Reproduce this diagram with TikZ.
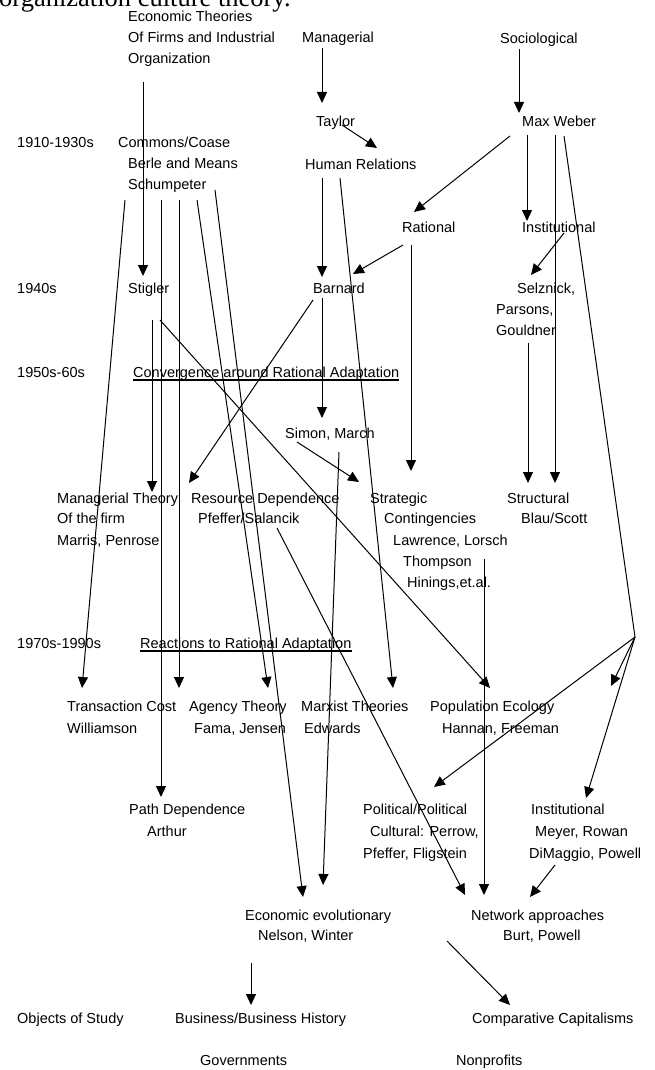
\documentclass[tikz,border=0pt]{standalone}
\usepackage{fontspec}
\setmainfont{Liberation Sans}
\newfontfamily\headserif{Liberation Serif}
\usetikzlibrary{arrows.meta}
\begin{document}
\begin{tikzpicture}[x=1pt,y=-1pt,
  lbl/.style={anchor=base west,inner sep=0pt,font=\fontsize{14.5}{17}\selectfont},
  arr/.style={line width=1pt,-{Triangle[length=11pt,width=10pt]}},
  ln/.style={line width=1pt},
  uline/.style={line width=1.2pt}]
\useasboundingbox (0,0) rectangle (654,1070);
\clip (0,0) rectangle (654,1070);
\fill[white] (0,0) rectangle (654,1070);
% clipped heading
\node[anchor=base west,inner sep=0pt,font=\headserif\fontsize{26.5}{30}\selectfont] (title) at (-1,7) {organization culture theory.};
% ---------- labels ----------
\node[lbl] (econ1) at (128,22) {Economic Theories};
\node[lbl] (econ2) at (128,43) {Of Firms and Industrial};
\node[lbl] (econ3) at (128,64) {Organization};
\node[lbl] (manag) at (302,43) {Managerial};
\node[lbl] (socio) at (500,44) {Sociological};
\node[lbl] (y1910) at (17,147) {1910-1930s};
\node[lbl] (commons) at (118,147) {Commons/Coase};
\node[lbl] (taylor) at (316,127) {Taylor};
\node[lbl] (weber) at (522,127) {Max Weber};
\node[lbl] (berle) at (128,168) {Berle and Means};
\node[lbl] (humrel) at (305,169) {Human Relations};
\node[lbl] (schump) at (128,189) {Schumpeter};
\node[lbl] (rational) at (402,232) {Rational};
\node[lbl] (instit) at (522,232) {Institutional};
\node[lbl] (y1940) at (17,293) {1940s};
\node[lbl] (stigler) at (128,293) {Stigler};
\node[lbl] (barnard) at (313,293) {Barnard};
\node[lbl] (selz) at (517,293) {Selznick,};
\node[lbl] (pars) at (496,314) {Parsons,};
\node[lbl] (gould) at (496,335) {Gouldner};
\node[lbl] (y1950) at (17,377) {1950s-60s};
\node[lbl] (conv) at (133,377) {Convergence around Rational Adaptation};
\node[lbl] (simon) at (285,438) {Simon, March};
\node[lbl] (mt1) at (57,503) {Managerial Theory};
\node[lbl] (mt2) at (57,523) {Of the firm};
\node[lbl] (mt3) at (57,545) {Marris, Penrose};
\node[lbl] (rd1) at (191,503) {Resource Dependence};
\node[lbl] (rd2) at (198,523) {Pfeffer/Salancik};
\node[lbl] (sc1) at (370,503) {Strategic};
\node[lbl] (sc2) at (384,523) {Contingencies};
\node[lbl] (sc3) at (393,545) {Lawrence, Lorsch};
\node[lbl] (sc4) at (403,566) {Thompson};
\node[lbl] (sc5) at (407,587) {Hinings,et.al.};
\node[lbl] (st1) at (507,503) {Structural};
\node[lbl] (st2) at (521,523) {Blau/Scott};
\node[lbl] (y1970) at (17,648) {1970s-1990s};
\node[lbl] (react) at (140,648) {Reactions to Rational Adaptation};
\node[lbl] (tc1) at (67,711) {Transaction Cost};
\node[lbl] (tc2) at (67,733) {Williamson};
\node[lbl] (ag1) at (189,711) {Agency Theory};
\node[lbl] (ag2) at (194,733) {Fama, Jensen};
\node[lbl] (mx1) at (301,711) {Marxist Theories};
\node[lbl] (mx2) at (304,733) {Edwards};
\node[lbl] (pe1) at (430,711) {Population Ecology};
\node[lbl] (pe2) at (442,733) {Hannan, Freeman};
\node[lbl] (pd1) at (129,814) {Path Dependence};
\node[lbl] (pd2) at (147,836) {Arthur};
\node[lbl] (pol1) at (363,814) {Political/Political};
\node[lbl] (pol2) at (370,836) {Cultural: Perrow,};
\node[lbl] (pol3) at (363,858) {Pfeffer, Fligstein};
\node[lbl] (inst1) at (531,814) {Institutional};
\node[lbl] (inst2) at (535,836) {Meyer, Rowan};
\node[lbl] (inst3) at (529,858) {DiMaggio, Powell};
\node[lbl] (ee1) at (245,920) {Economic evolutionary};
\node[lbl] (ee2) at (258,940) {Nelson, Winter};
\node[lbl] (net1) at (471,920) {Network approaches};
\node[lbl] (net2) at (503,940) {Burt, Powell};
\node[lbl] (obj) at (17,1023) {Objects of Study};
\node[lbl] (bus) at (175,1023) {Business/Business History};
\node[lbl] (comp) at (472,1023) {Comparative Capitalisms};
\node[lbl] (gov) at (200,1065) {Governments};
\node[lbl] (nonp) at (456,1065) {Nonprofits};
% underlines
\draw[uline] ([yshift=-3pt]conv.base west) -- ([yshift=-3pt]conv.base east);
\draw[uline] ([yshift=-3pt]react.base west) -- ([yshift=-3pt]react.base east);
% ---------- connector end points ----------
\coordinate (eS) at (143,82);   \coordinate (eT) at (143,276);
\coordinate (mS) at (322,48);   \coordinate (mT) at (322,103);
\coordinate (tS) at (342,125);  \coordinate (tT) at (377,148);
\coordinate (sS) at (519,49);   \coordinate (sT) at (519,113);
\coordinate (w1S) at (510,136); \coordinate (w1T) at (414,212);
\coordinate (w2S) at (527,135); \coordinate (w2T) at (527,221);
\coordinate (w3S) at (555,135); \coordinate (w3T) at (555,483);
\coordinate (w4S) at (564,136); \coordinate (hub) at (635,637);
\coordinate (h1T) at (434,787); \coordinate (h2T) at (611,686); \coordinate (h3T) at (586,798);
\coordinate (r1S) at (403,245); \coordinate (r1T) at (353,274);
\coordinate (r2S) at (411,245); \coordinate (r2T) at (411,471);
\coordinate (iS) at (564,233);  \coordinate (iT) at (531,275);
\coordinate (gS) at (528,343);  \coordinate (gT) at (528,483);
\coordinate (h4S) at (322,178); \coordinate (h4T) at (322,277);
\coordinate (h5S) at (340,178); \coordinate (h5T) at (393,688);
\coordinate (b1S) at (322,298); \coordinate (b1T) at (322,418);
\coordinate (b2S) at (313,300); \coordinate (b2T) at (189,483);
\coordinate (s1S) at (297,442); \coordinate (s1T) at (359,482);
\coordinate (s2S) at (339,452); \coordinate (s2T) at (323,885);
\coordinate (g1S) at (160,320); \coordinate (g1T) at (490,688);
\coordinate (g2S) at (152,320); \coordinate (g2T) at (152,492);
\coordinate (p1S) at (125,200); \coordinate (p1T) at (82,688);
\coordinate (p2S) at (161,200); \coordinate (p2T) at (161,797);
\coordinate (p3S) at (179,200); \coordinate (p3T) at (179,688);
\coordinate (p4S) at (197,200); \coordinate (p4T) at (268,688);
\coordinate (p5S) at (215,190); \coordinate (p5T) at (303,897);
\coordinate (rdS) at (277,528); \coordinate (rdT) at (465,895);
\coordinate (thS) at (484,559); \coordinate (thT) at (484,895);
\coordinate (dmS) at (555,865); \coordinate (dmT) at (530,897);
\coordinate (buS) at (251,963); \coordinate (buT) at (251,1005);
\coordinate (ccS) at (447,941); \coordinate (ccT) at (510,1005);
% ---------- connectors ----------
\draw[arr] (eS) -- (eT);
\draw[arr] (mS) -- (mT);
\draw[arr] (tS) -- (tT);
\draw[arr] (sS) -- (sT);
\draw[arr] (w1S) -- (w1T);
\draw[arr] (w2S) -- (w2T);
\draw[arr] (w3S) -- (w3T);
\draw[ln] (w4S) -- (hub);
\draw[arr] (hub) -- (h1T);
\draw[arr] (hub) -- (h2T);
\draw[arr] (hub) -- (h3T);
\draw[arr] (r1S) -- (r1T);
\draw[arr] (r2S) -- (r2T);
\draw[arr] (iS) -- (iT);
\draw[arr] (gS) -- (gT);
\draw[arr] (h4S) -- (h4T);
\draw[arr] (h5S) -- (h5T);
\draw[arr] (b1S) -- (b1T);
\draw[arr] (b2S) -- (b2T);
\draw[arr] (s1S) -- (s1T);
\draw[arr] (s2S) -- (s2T);
\draw[arr] (g1S) -- (g1T);
\draw[arr] (g2S) -- (g2T);
\draw[arr] (p1S) -- (p1T);
\draw[arr] (p2S) -- (p2T);
\draw[arr] (p3S) -- (p3T);
\draw[arr] (p4S) -- (p4T);
\draw[arr] (p5S) -- (p5T);
\draw[arr] (rdS) -- (rdT);
\draw[arr] (thS) -- (thT);
\draw[arr] (dmS) -- (dmT);
\draw[arr] (buS) -- (buT);
\draw[arr] (ccS) -- (ccT);
\end{tikzpicture}
\end{document}
